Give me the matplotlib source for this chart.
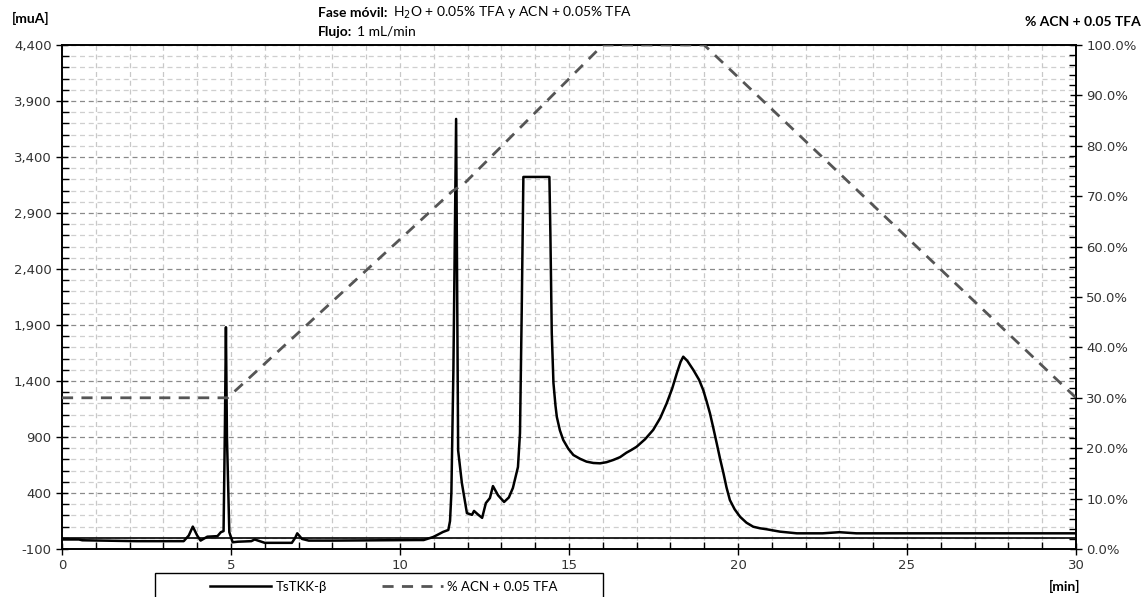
import matplotlib
matplotlib.use("Agg")
import matplotlib.pyplot as plt
from matplotlib.ticker import MultipleLocator, FixedLocator, FuncFormatter
from matplotlib.lines import Line2D
from matplotlib.patches import Rectangle

# ---- data ----
time_min = [0, 0.5, 0.6, 2.2, 3.6, 3.75, 3.87, 4.0, 4.1, 4.3, 4.6, 4.7, 4.78, 4.82,
            4.85, 4.88, 4.95, 5.05, 5.2, 5.6, 5.7, 5.85, 6.0, 6.8, 6.9, 6.96, 7.1,
            7.3, 8.0, 10.5, 10.7, 10.98, 11.1, 11.27, 11.43, 11.48, 11.52, 11.58,
            11.66, 11.72, 11.83, 11.98, 12.13, 12.19, 12.3, 12.43, 12.54, 12.66,
            12.75, 12.9, 13.08, 13.22, 13.34, 13.49, 13.55, 13.6, 13.65, 14.42,
            14.45, 14.49, 14.54, 14.6, 14.64, 14.73, 14.83, 14.98, 15.13, 15.33,
            15.52, 15.72, 15.92, 16.11, 16.31, 16.51, 16.7, 16.85, 17.0, 17.25,
            17.49, 17.7, 17.89, 18.05, 18.19, 18.3, 18.38, 18.5, 18.68, 18.85,
            18.97, 19.07, 19.17, 19.27, 19.37, 19.47, 19.57, 19.66, 19.76, 19.9,
            20.06, 20.25, 20.45, 20.65, 20.85, 21.24, 21.74, 22.5, 23.0, 23.5, 30]
signal_muA = [-15, -15, -22, -30, -30, 20, 100, 20, -25, 10, 15, 50, 60, 1000,
              1880, 900, 50, -40, -35, -30, -15, -30, -45, -45, 0, 40, -10,
              -25, -25, -20, -20, 7, 25, 52, 70, 150, 400, 1500,
              3740, 780, 490, 220, 205, 240, 210, 178, 310, 355,
              462, 380, 320, 360, 445, 632, 935, 2000, 3222, 3222,
              2700, 1829, 1382, 1180, 1079, 960, 873, 795, 739, 705,
              680, 668, 665, 675, 695, 720, 760, 785, 813, 880,
              963, 1070, 1201, 1330, 1469, 1570, 1617, 1580, 1498, 1410,
              1320, 1220, 1112, 980, 844, 705, 576, 450, 337, 255,
              188, 135, 99, 85, 76, 55, 40, 40, 50, 40, 40]

grad_time = [0, 4.9, 11.55, 11.9, 16, 19, 30]
grad_pct = [30, 30, 71, 72.5, 100, 100, 30]

left_ticks = [-100, 400, 900, 1400, 1900, 2400, 2900, 3400, 3900, 4400]
series_names = ["TsTKK-\u03b2", "% ACN + 0.05 TFA"]

W, H = 1144, 597
fig = plt.figure(figsize=(W / 100, H / 100), dpi=100)
ax = fig.add_axes([62 / W, 1 - 549 / H, (1076 - 62) / W, (549 - 45) / H])

ax.set_xlim(0, 30)
ax.set_ylim(left_ticks[0], left_ticks[-1])

ax.xaxis.set_major_locator(MultipleLocator(5))
ax.xaxis.set_minor_locator(MultipleLocator(1))
ax.yaxis.set_major_locator(FixedLocator(left_ticks))
ax.yaxis.set_minor_locator(MultipleLocator(100))
ax.yaxis.set_major_formatter(FuncFormatter(lambda v, p: f"{v:,.0f}"))

ax.grid(which="major", axis="y", linestyle=(0, (4, 3)), color="#8a8a8a", linewidth=0.9)
ax.grid(which="minor", axis="y", linestyle=(0, (4, 3)), color="#cfcfcf", linewidth=0.9)
ax.grid(which="both", axis="x", linestyle=(0, (4, 3)), color="#c8c8c8", linewidth=0.9)
ax.set_axisbelow(True)

ax.tick_params(which="major", direction="inout", length=8, width=1, colors="black",
               labelcolor="#333333", labelsize=9.5)
ax.tick_params(which="minor", direction="in", length=5, width=1, colors="black")

for s in ax.spines.values():
    s.set_color("black")
    s.set_linewidth(1.2)

ax.axhline(0, color="black", linewidth=1.2, zorder=2)

ax.plot(time_min, signal_muA, color="black", linewidth=1.8, zorder=4,
        solid_joinstyle="round")

ax2 = ax.twinx()
ax2.set_ylim(0, 100)
ax2.yaxis.set_major_locator(MultipleLocator(10))
ax2.yaxis.set_minor_locator(MultipleLocator(2))
ax2.yaxis.set_major_formatter(FuncFormatter(lambda v, p: f"{v:.1f}%"))
ax2.tick_params(which="major", direction="inout", length=8, width=1, colors="black",
                labelcolor="#333333", labelsize=9.5)
ax2.tick_params(which="minor", direction="in", length=5, width=1, colors="black")
for s in ax2.spines.values():
    s.set_color("black")
    s.set_linewidth(1.2)
ax2.plot(grad_time, grad_pct, color="#555555", linewidth=2.0,
         linestyle=(0, (4, 3)), zorder=3)

# ---- texts ----
def px(x, y):
    return x / W, 1 - y / H

txtfont = "Lato"
fig.text(*px(12, 18), "[muA]", fontsize=10, fontweight="bold", family=txtfont,
         va="center", ha="left")
fig.text(*px(1141, 22), "% ACN + 0.05 TFA", fontsize=10, fontweight="bold",
         family=txtfont, va="center", ha="right")
fig.text(*px(1080, 586), "[min]", fontsize=10, fontweight="bold", family=txtfont,
         va="center", ha="right")
fig.text(*px(318, 13), "Fase m\u00f3vil:", fontsize=10, fontweight="bold",
         family=txtfont, va="center", ha="left")
fig.text(*px(393, 13), "H$_2$O + 0.05% TFA y ACN + 0.05% TFA", fontsize=10,
         family=txtfont, va="center", ha="left")
fig.text(*px(318, 32), "Flujo:", fontsize=10, fontweight="bold", family=txtfont,
         va="center", ha="left")
fig.text(*px(357, 32), "1 mL/min", fontsize=10, family=txtfont, va="center",
         ha="left")

# legend box (partly cut off at the bottom as in the source)
fig.patches.append(Rectangle(px(155, 600), (603 - 155) / W, 27 / H,
                             transform=fig.transFigure, fill=False,
                             edgecolor="black", linewidth=1.0))
handles = [Line2D([], [], color="black", linewidth=1.8),
           Line2D([], [], color="#555555", linewidth=2.0, linestyle=(0, (4, 3)))]
leg = fig.legend(handles, series_names, loc="center",
                 bbox_to_anchor=px(384, 587),
                 ncol=2, frameon=False, handlelength=4.6, handletextpad=0.35,
                 columnspacing=4.2, borderpad=0.0,
                 prop={"family": txtfont, "size": 9.5})

fig.savefig("out.png", dpi=100)
